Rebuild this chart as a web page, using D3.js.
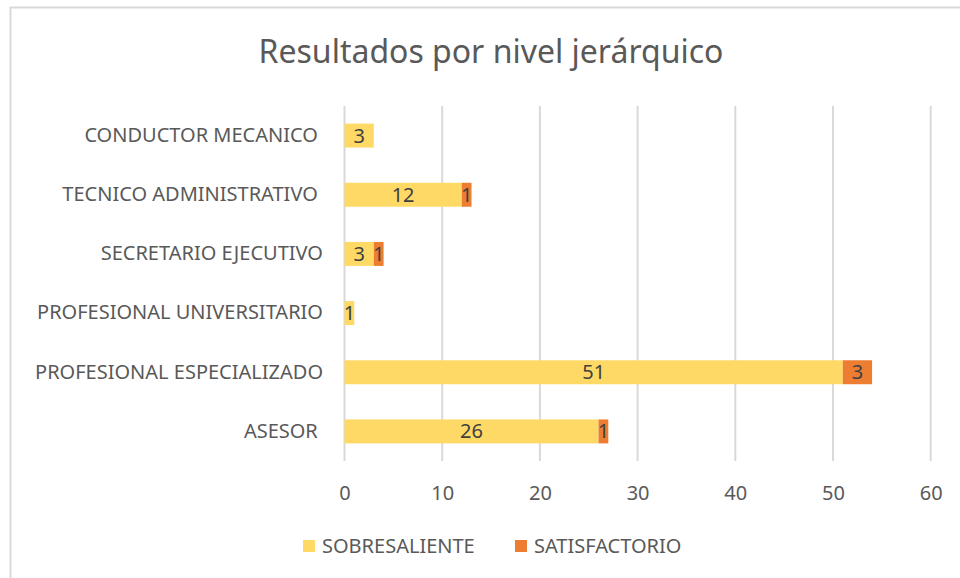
<!DOCTYPE html>
<html>
<head>
<meta charset="utf-8">
<script src="https://cdn.jsdelivr.net/npm/d3@7"></script>
<style>
  body { margin: 0; background: #fff; }
  text { font-family: "Noto Sans", "Open Sans", sans-serif; }
</style>
</head>
<body>
<script>
// Resultados por nivel jerárquico - stacked horizontal bars
const width = 960, height = 578;

// some Excel labels carry a trailing space
const categories = ["CONDUCTOR MECANICO ", "TECNICO ADMINISTRATIVO ", "SECRETARIO EJECUTIVO",
  "PROFESIONAL UNIVERSITARIO", "PROFESIONAL ESPECIALIZADO", "ASESOR "];
const sobresaliente = [3, 12, 3, 1, 51, 26];
const satisfactorio = [0, 1, 1, 0, 3, 1];
const seriesNames = ["SOBRESALIENTE", "SATISFACTORIO"];
const seriesColors = ["#FFD966", "#ED7D31"];
const xTicks = [0, 10, 20, 30, 40, 50, 60];

const rows = categories.map((c, i) => ({ cat: c, SOBRESALIENTE: sobresaliente[i], SATISFACTORIO: satisfactorio[i] }));
const stacked = d3.stack().keys(seriesNames)(rows);

const svg = d3.select("body").append("svg")
  .attr("width", width)
  .attr("height", height);

// chart border (right and bottom edges fall outside the picture)
svg.append("rect")
  .attr("x", 10.5).attr("y", 7.5)
  .attr("width", 960).attr("height", 600)
  .attr("fill", "#fff")
  .attr("stroke", "#d9d9d9")
  .attr("stroke-width", 2);

const x = d3.scaleLinear().domain([0, 60]).range([344.5, 930.7]);
const y = d3.scaleBand().domain(categories).range([106, 461])
  .paddingInner(0.595).paddingOuter(0.2975);

svg.append("text")
  .attr("x", 491).attr("y", 63)
  .attr("text-anchor", "middle")
  .attr("font-size", "32px")
  .attr("fill", "#595959")
  .text("Resultados por nivel jerárquico");

// vertical gridlines
svg.append("g").selectAll("line")
  .data(xTicks)
  .join("line")
  .attr("x1", d => x(d)).attr("x2", d => x(d))
  .attr("y1", 106).attr("y2", 461)
  .attr("stroke", "#d9d9d9")
  .attr("stroke-width", 2);

// x axis labels
const xAxis = svg.append("g")
  .attr("transform", "translate(0,461)")
  .call(d3.axisBottom(x).tickValues(xTicks).tickSize(0).tickPadding(25));
xAxis.select(".domain").remove();
xAxis.selectAll("text")
  .attr("font-size", "20px")
  .attr("font-family", "Noto Sans, sans-serif")
  .attr("fill", "#595959");

// category labels
const yAxis = svg.append("g")
  .attr("transform", "translate(323,0)")
  .call(d3.axisLeft(y).tickSize(0).tickPadding(0));
yAxis.select(".domain").remove();
yAxis.selectAll("text")
  .attr("font-size", "20px")
  .attr("font-family", "Noto Sans, sans-serif")
  .attr("fill", "#595959")
  .style("white-space", "pre");

// bars
const layers = svg.append("g").selectAll("g")
  .data(stacked)
  .join("g")
  .attr("fill", (d, i) => seriesColors[i]);

layers.selectAll("rect")
  .data(d => d.filter(s => s[1] - s[0] > 0))
  .join("rect")
  .attr("x", d => x(d[0]))
  .attr("y", d => y(d.data.cat))
  .attr("width", d => x(d[1]) - x(d[0]))
  .attr("height", y.bandwidth());

// data labels
layers.selectAll("text")
  .data(d => d.filter(s => s[1] - s[0] > 0))
  .join("text")
  .attr("x", d => (x(d[0]) + x(d[1])) / 2)
  .attr("y", d => y(d.data.cat) + y.bandwidth() / 2)
  .attr("dy", "0.35em")
  .attr("text-anchor", "middle")
  .attr("font-size", "20px")
  .attr("fill", "#404040")
  .text(d => d[1] - d[0]);

// legend
const legend = svg.append("g").selectAll("g")
  .data(seriesNames)
  .join("g")
  .attr("transform", (d, i) => `translate(${[303, 515][i]},540)`);
legend.append("rect")
  .attr("width", 12).attr("height", 12)
  .attr("fill", (d, i) => seriesColors[i]);
legend.append("text")
  .attr("x", 19).attr("y", 6)
  .attr("dy", "0.35em")
  .attr("font-size", "20px")
  .attr("fill", "#595959")
  .text(d => d);
</script>
</body>
</html>
